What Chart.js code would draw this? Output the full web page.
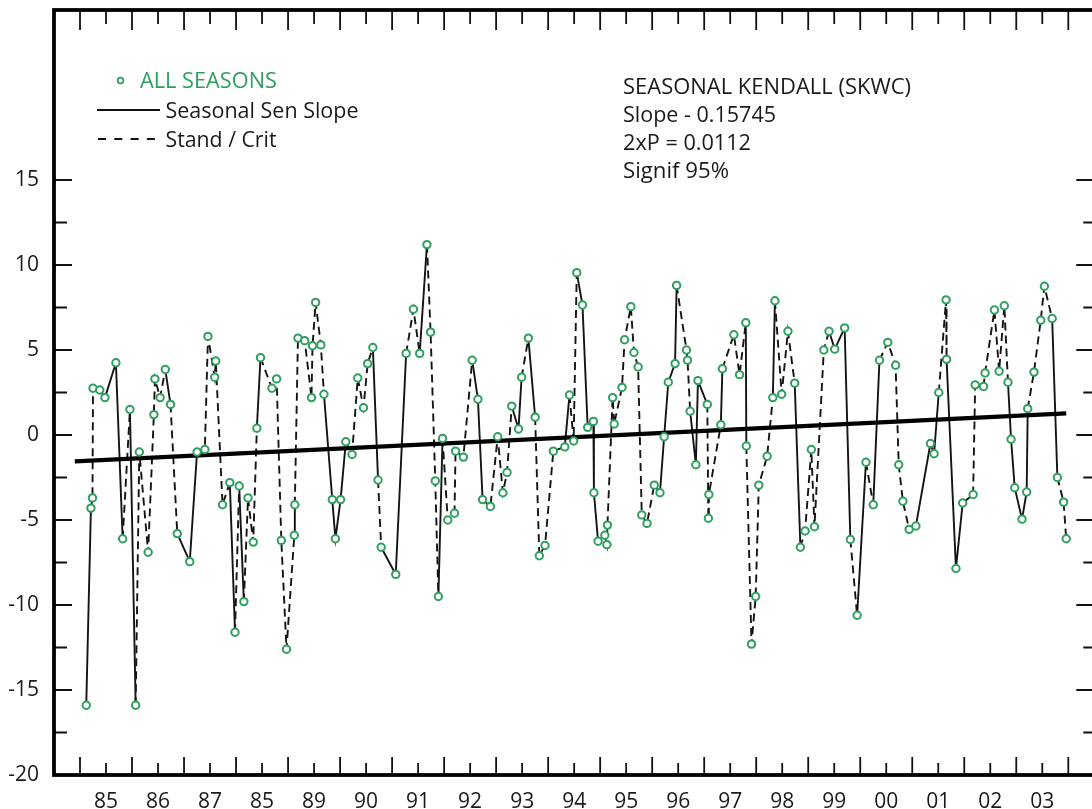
<!DOCTYPE html>
<html><head><meta charset="utf-8">
<script src="https://cdn.jsdelivr.net/npm/chart.js@4.4.1/dist/chart.umd.min.js"></script>
<style>html,body{margin:0;padding:0;overflow:hidden;background:#fff}canvas{display:block}</style>
</head><body>
<canvas id="c" width="1100" height="809"></canvas>
<script>
// ---- data ----
const obsTime = [
1985.12,1985.21,1985.24,1985.25,1985.38,1985.48,1985.69,1985.82,1985.96,1986.07,
1986.14,1986.31,1986.42,1986.44,1986.54,1986.64,1986.74,1986.87,1987.11,1987.25,
1987.40,1987.46,1987.59,1987.61,1987.74,1987.88,1987.98,1988.06,1988.15,1988.23,
1988.33,1988.40,1988.47,1988.69,1988.78,1988.87,1988.97,1989.12,1989.13,1989.19,
1989.32,1989.45,1989.47,1989.53,1989.63,1989.69,1989.85,1989.91,1990.01,1990.11,
1990.23,1990.34,1990.45,1990.53,1990.63,1990.73,1990.79,1991.07,1991.27,1991.41,
1991.53,1991.67,1991.74,1991.83,1991.89,1991.97,1992.07,1992.20,1992.22,1992.37,
1992.54,1992.65,1992.74,1992.89,1993.03,1993.13,1993.21,1993.30,1993.43,1993.49,
1993.62,1993.75,1993.83,1993.94,1994.10,1994.32,1994.41,1994.49,1994.55,1994.66,
1994.76,1994.87,1994.88,1994.96,1995.09,1995.13,1995.14,1995.24,1995.27,1995.42,
1995.47,1995.59,1995.65,1995.73,1995.80,1995.90,1996.04,1996.15,1996.23,1996.31,
1996.44,1996.47,1996.66,1996.68,1996.73,1996.84,1996.88,1997.06,1997.08,1997.09,
1997.32,1997.35,1997.57,1997.68,1997.80,1997.81,1997.91,1997.99,1998.05,1998.21,
1998.32,1998.36,1998.49,1998.61,1998.74,1998.85,1998.94,1999.06,1999.12,1999.30,
1999.40,1999.51,1999.70,1999.81,1999.94,2000.11,2000.25,2000.37,2000.53,2000.68,
2000.74,2000.82,2000.94,2001.07,2001.35,2001.42,2001.51,2001.65,2001.66,2001.84,
2001.97,2002.17,2002.21,2002.37,2002.40,2002.58,2002.67,2002.77,2002.84,2002.90,
2002.97,2003.11,2003.20,2003.22,2003.34,2003.47,2003.54,2003.69,2003.79,2003.91,
2003.96];
const obsValue = [
-15.9,-4.3,-3.7,2.75,2.65,2.2,4.25,-6.1,1.5,-15.9,
-1.0,-6.9,1.2,3.3,2.2,3.85,1.8,-5.8,-7.45,-1.0,
-0.85,5.8,3.4,4.35,-4.1,-2.8,-11.6,-3.0,-9.8,-3.7,
-6.3,0.4,4.55,2.75,3.3,-6.2,-12.6,-5.9,-4.1,5.7,
5.55,2.2,5.25,7.8,5.3,2.4,-3.8,-6.1,-3.8,-0.4,
-1.15,3.35,1.6,4.2,5.15,-2.65,-6.6,-8.2,4.8,7.4,
4.8,11.2,6.05,-2.7,-9.5,-0.2,-5.0,-4.6,-0.95,-1.3,
4.4,2.1,-3.8,-4.2,-0.1,-3.4,-2.2,1.7,0.35,3.4,
5.7,1.05,-7.1,-6.5,-0.95,-0.7,2.35,-0.35,9.55,7.65,
0.45,0.8,-3.4,-6.25,-5.9,-6.45,-5.3,2.2,0.65,2.8,
5.6,7.55,4.85,4.0,-4.7,-5.2,-2.95,-3.4,-0.1,3.1,
4.2,8.8,5.0,4.4,1.4,-1.75,3.2,1.8,-4.9,-3.5,
0.6,3.9,5.9,3.55,6.6,-0.65,-12.3,-9.5,-2.95,-1.25,
2.2,7.9,2.4,6.1,3.05,-6.6,-5.65,-0.85,-5.4,5.0,
6.1,5.05,6.3,-6.15,-10.6,-1.6,-4.1,4.4,5.45,4.1,
-1.75,-3.9,-5.55,-5.35,-0.5,-1.1,2.5,7.95,4.45,-7.85,
-4.0,-3.5,2.95,2.85,3.65,7.35,3.75,7.6,3.1,-0.25,
-3.1,-4.95,-3.35,1.55,3.7,6.75,8.75,6.85,-2.5,-3.95,
-6.1];
// 1 = solid segment, 0 = dashed segment (segment k joins point k and k+1)
const segmentStyle = [
'1001011010','0000010110','0000010100','0100000100','0000011110',
'0000101100','1000100000','1100000110','1000010011','0110000000',
'0000000111','1000111000','1000100000','1000100000','1110101000',
'0011110011','1010000011','1110000100'].join('');
const trendTime = [1984.9, 2003.96];
const trendValue = [-1.55, 1.27];
const xTickYears = [1985.5,1986.5,1987.5,1988.5,1989.5,1990.5,1991.5,1992.5,1993.5,1994.5,
                    1995.5,1996.5,1997.5,1998.5,1999.5,2000.5,2001.5,2002.5,2003.5];
const xTickLabels = ['85','86','87','85','89','90','91','92','93','94','95','96','97','98','99','00','01','02','03'];
const yTickValues = [-20,-15,-10,-5,0,5,10,15];
const yTickLabels = ['-20','-15','-10','-5','0','5','10','15'];
const legendLabels = ['ALL SEASONS','Seasonal Sen Slope','Stand / Crit'];
const statLines = ['SEASONAL KENDALL (SKWC)','Slope - 0.15745','2xP = 0.0112','Signif 95%'];

// ---- styling ----
const GREEN = '#2e9f5e';
const FONT = '"Open Sans", "Noto Sans", sans-serif';
const DASH = [8,5];

const pts = obsTime.map((t,i)=>({x:t, y:obsValue[i]}));
const trendPts = trendTime.map((t,i)=>({x:t, y:trendValue[i]}));

function drawFitted(ctx, text, x, baseline, width, size, color){
  ctx.save();
  ctx.font = size + 'px ' + FONT;
  ctx.fillStyle = color;
  ctx.textBaseline = 'alphabetic';
  ctx.textAlign = 'left';
  const w = ctx.measureText(text).width;
  ctx.translate(x, baseline);
  ctx.scale(width / w, 1);
  ctx.fillText(text, 0, 0);
  ctx.restore();
}

const framePlugin = {
  id: 'frame',
  afterDatasetsDraw(chart){
    const {ctx, chartArea:a, scales:{x, y}} = chart;
    ctx.save();
    ctx.strokeStyle = '#111';
    ctx.lineCap = 'butt';
    ctx.lineWidth = 1.8;
    ctx.beginPath();
    for (let yr = 1985; yr <= 2004; yr++){
      const px = x.getPixelForValue(yr);
      ctx.moveTo(px, a.top); ctx.lineTo(px, a.top + 20);
      ctx.moveTo(px, a.bottom); ctx.lineTo(px, a.bottom - 18);
    }
    for (let yr = 1985.5; yr <= 2004; yr += 1){
      const px = x.getPixelForValue(yr);
      ctx.moveTo(px, a.top); ctx.lineTo(px, a.top + 14);
      ctx.moveTo(px, a.bottom); ctx.lineTo(px, a.bottom - 12);
    }
    for (let v = -20; v <= 15; v += 2.5){
      const py = y.getPixelForValue(v);
      const major = (v % 5 === 0);
      ctx.moveTo(a.left, py); ctx.lineTo(a.left + (major ? 18 : 13), py);
      ctx.moveTo(a.right, py); ctx.lineTo(a.right - (major ? 18 : 11), py);
    }
    ctx.stroke();
    ctx.lineWidth = 3.8;
    ctx.strokeStyle = '#000';
    ctx.strokeRect(a.left, a.top, a.right - a.left, a.bottom - a.top);
    ctx.restore();
  },
  afterDraw(chart){
    const ctx = chart.ctx;
    // legend
    ctx.save();
    ctx.strokeStyle = GREEN; ctx.lineWidth = 1.7;
    ctx.beginPath(); ctx.arc(120.5, 80.5, 2.9, 0, Math.PI*2); ctx.stroke();
    ctx.strokeStyle = '#111'; ctx.lineWidth = 1.8;
    ctx.beginPath(); ctx.moveTo(97, 110); ctx.lineTo(160, 110); ctx.stroke();
    ctx.setLineDash([8, 8.3]);
    ctx.beginPath(); ctx.moveTo(98, 139); ctx.lineTo(156, 139); ctx.stroke();
    ctx.restore();
    drawFitted(ctx, legendLabels[0], 140, 88.3, 137, 21.5, GREEN);
    drawFitted(ctx, legendLabels[1], 165.5, 118.3, 193, 21.5, '#1a1a1a');
    drawFitted(ctx, legendLabels[2], 165.5, 146.7, 111, 21.5, '#1a1a1a');
    const bases = [94, 121.7, 150, 178.3];
    const widths = [288, 153, 128, 106];
    statLines.forEach((s,i)=>drawFitted(ctx, s, 623, bases[i], widths[i], 21.5, '#1a1a1a'));
  }
};

new Chart(document.getElementById('c'), {
  type: 'scatter',
  data: {
    datasets: [
      { type:'scatter', data: pts, showLine:false, pointRadius:3.7, pointBorderWidth:2,
        pointBorderColor:GREEN, pointBackgroundColor:'#fff', pointHoverRadius:3.7, order:1 },
      { type:'line', data: trendPts, borderColor:'#000', borderWidth:4.2, pointRadius:0,
        tension:0, order:2 },
      { type:'line', data: pts, borderColor:'#141414', borderWidth:1.9, pointRadius:0,
        tension:0, order:3,
        segment:{ borderDash: c => segmentStyle[c.p0DataIndex] === '1' ? [] : DASH } }
    ]
  },
  options: {
    responsive:false, animation:false, devicePixelRatio:1,
    layout:{ padding:{ top:10, right:4, left:0, bottom:0 } },
    plugins:{ legend:{display:false}, tooltip:{enabled:false} },
    scales:{
      x:{ type:'linear', min:1984.5, max:2004.5,
          grid:{display:false}, border:{display:false},
          afterBuildTicks: s => { s.ticks = xTickYears.map(v=>({value:v})); },
          afterFit: s => { s.height = 34; s.paddingLeft = 0; s.paddingRight = 0; },
          ticks:{ autoSkip:false, maxRotation:0, minRotation:0, padding:6, color:'#1a1a1a',
                  font:{ family:FONT, size:21 }, callback:(v,i)=>xTickLabels[i] } },
      y:{ type:'linear', min:-20, max:25,
          grid:{display:false}, border:{display:false},
          afterBuildTicks: s => { s.ticks = yTickValues.map(v=>({value:v})); },
          afterFit: s => { s.width = 54; s.paddingTop = 0; s.paddingBottom = 0; },
          ticks:{ padding:7, color:'#1a1a1a', font:{ family:FONT, size:21 },
                  callback:(v,i)=>yTickLabels[i] } }
    }
  },
  plugins:[framePlugin]
});
</script>
</body></html>
